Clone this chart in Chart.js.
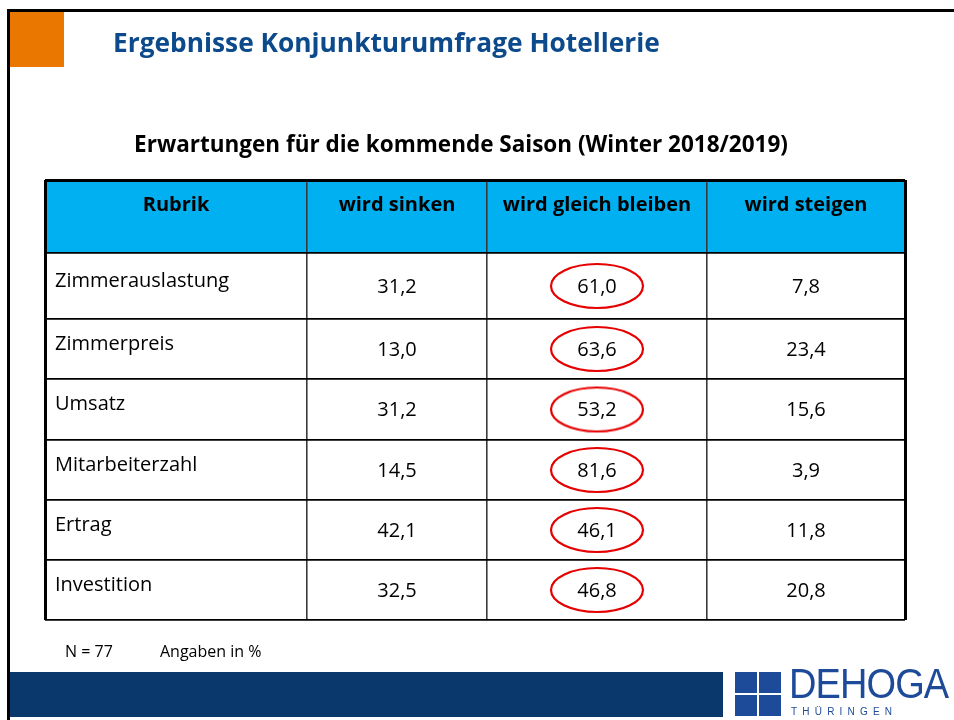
<!DOCTYPE html>
<html>
<head>
<meta charset="utf-8">
<title>Ergebnisse Konjunkturumfrage Hotellerie</title>
<script src="https://cdn.jsdelivr.net/npm/chart.js@4.4.1/dist/chart.umd.min.js"></script>
<style>
body { margin: 0; background: #fff; }
#folie { position: relative; width: 954px; height: 720px; overflow: hidden; font-family: "Open Sans", sans-serif; }
#folie canvas { position: absolute; left: 0; top: 0; }
.abs { position: absolute; white-space: nowrap; }
#rahmenOben { left: 8px; top: 9px; width: 946px; height: 3px; background: #000; }
#rahmenLinks { left: 7px; top: 9px; width: 3px; height: 711px; background: #000; }
#orange { left: 10px; top: 12px; width: 54px; height: 55px; background: #e97700; }
#titel { left: 113px; top: 24px; font-size: 26.3px; font-weight: 700; color: #0c4a8c; }
#untertitel { left: 0; width: 922px; text-align: center; top: 128px; font-size: 22.5px; font-weight: 700; color: #000; }
#fuss1 { left: 65px; top: 640px; font-size: 16px; }
#fuss2 { left: 160px; top: 640px; font-size: 16px; }
#band { left: 10px; top: 672px; width: 713px; height: 45px; background: #0a386d; }
.icon { position: absolute; width: 22px; height: 21px; background: #1e4a9a; }
#dehoga { left: 789px; top: 660px; font-family: "Liberation Sans", sans-serif; font-size: 42px; color: #1e4a9a; transform: scaleX(0.905); transform-origin: left top; letter-spacing: -1px; }
#thueringen { left: 791px; top: 706px; font-family: "Liberation Sans", sans-serif; font-size: 10px; color: #1e4a9a; letter-spacing: 5.2px; }
</style>
</head>
<body>
<div id="folie">
  <canvas id="tabelle" width="954" height="720"></canvas>
  <div class="abs" id="rahmenOben"></div>
  <div class="abs" id="rahmenLinks"></div>
  <div class="abs" id="orange"></div>
  <div class="abs" id="titel">Ergebnisse Konjunkturumfrage Hotellerie</div>
  <div class="abs" id="untertitel">Erwartungen für die kommende Saison (Winter 2018/2019)</div>
  <div class="abs" id="fuss1">N = 77</div>
  <div class="abs" id="fuss2">Angaben in %</div>
  <div class="abs" id="band"></div>
  <div class="icon" style="left:735px;top:672px"></div>
  <div class="icon" style="left:759px;top:672px"></div>
  <div class="icon" style="left:735px;top:695px"></div>
  <div class="icon" style="left:759px;top:695px"></div>
  <div class="abs" id="dehoga">DEHOGA</div>
  <div class="abs" id="thueringen">THÜRINGEN</div>
</div>
<script>
const spalten = ["Rubrik", "wird sinken", "wird gleich bleiben", "wird steigen"];
const rubriken = ["Zimmerauslastung", "Zimmerpreis", "Umsatz", "Mitarbeiterzahl", "Ertrag", "Investition"];
const wirdSinken = [31.2, 13.0, 31.2, 14.5, 42.1, 32.5];
const wirdGleich = [61.0, 63.6, 53.2, 81.6, 46.1, 46.8];
const wirdSteigen = [7.8, 23.4, 15.6, 3.9, 11.8, 20.8];

// tabellen-layout: spalten- und zeilenraender
const spaltenRaender = [0, 262, 442, 662, 860];
const zeilenRaender = [0, 73, 139, 199, 260, 320, 380, 440];

function mitte(r, i) { return (r[i] + r[i + 1]) / 2; }
function zahl(v) { return v.toFixed(1).replace(".", ","); }

function punkte(werte, spalte) {
    return werte.map((v, i) => ({ x: mitte(spaltenRaender, spalte), y: mitte(zeilenRaender, i + 1), wert: v }));
}

// roter kreis um "wird gleich bleiben"
const oval = document.createElement("canvas");
oval.width = 98;
oval.height = 50;
const octx = oval.getContext("2d");
octx.strokeStyle = "#e60000";
octx.lineWidth = 2.2;
octx.beginPath();
octx.ellipse(49, 25, 46, 22, 0, 0, Math.PI * 2);
octx.stroke();

const tabellePlugin = {
    id: "tabelle",
    beforeDraw(chart) {
        const { ctx, scales: { x, y } } = chart;
        ctx.save();
        ctx.fillStyle = "#00b0f0";
        const y0 = y.getPixelForValue(zeilenRaender[0]);
        const y1 = y.getPixelForValue(zeilenRaender[1]);
        ctx.fillRect(x.left, y0, x.right - x.left, y1 - y0);
        ctx.restore();
    },
    afterDatasetsDraw(chart) {
        const { ctx, scales: { x, y } } = chart;
        ctx.save();
        ctx.fillStyle = "#000";
        ctx.textBaseline = "middle";
        ctx.textAlign = "center";
        ctx.font = "bold 20px 'Open Sans'";
        const kopfY = y.getPixelForValue(zeilenRaender[0]) + 25;
        spalten.forEach((s, i) => {
            ctx.fillText(s, x.getPixelForValue(mitte(spaltenRaender, i)), kopfY);
        });
        ctx.textAlign = "left";
        ctx.font = "20px 'Open Sans'";
        rubriken.forEach((r, i) => {
            ctx.fillText(r, x.getPixelForValue(spaltenRaender[0]) + 10, y.getPixelForValue(mitte(zeilenRaender, i + 1)) - 5);
        });
        ctx.textAlign = "center";
        chart.data.datasets.forEach((ds, d) => {
            chart.getDatasetMeta(d).data.forEach((p, i) => {
                ctx.fillText(zahl(ds.data[i].wert), p.x, p.y + 1);
            });
        });
        ctx.restore();
    }
};

function linie(ctx, rand) {
    return ctx.index === 0 || ctx.index === rand.length - 1 ? 3 : 1.6;
}

new Chart(document.getElementById("tabelle"), {
    type: "scatter",
    data: {
        datasets: [
            { label: spalten[1], data: punkte(wirdSinken, 1), pointRadius: 0 },
            { label: spalten[2], data: punkte(wirdGleich, 2), pointStyle: oval },
            { label: spalten[3], data: punkte(wirdSteigen, 3), pointRadius: 0 }
        ]
    },
    options: {
        responsive: false,
        animation: false,
        events: [],
        layout: { padding: { left: 45, top: 180, right: 49, bottom: 100 } },
        plugins: { legend: { display: false }, tooltip: { enabled: false } },
        scales: {
            x: {
                type: "linear", min: 0, max: 860,
                afterBuildTicks: s => { s.ticks = spaltenRaender.map(v => ({ value: v })); },
                ticks: { display: false },
                border: { display: false },
                grid: {
                    drawTicks: false,
                    lineWidth: c => linie(c, spaltenRaender),
                    color: c => (c.index === 0 || c.index === spaltenRaender.length - 1) ? "#000" : "#3a3a3a"
                }
            },
            y: {
                type: "linear", min: 0, max: 440, reverse: true,
                afterBuildTicks: s => { s.ticks = zeilenRaender.map(v => ({ value: v })); },
                ticks: { display: false },
                border: { display: false },
                grid: {
                    drawTicks: false,
                    lineWidth: c => c.index === 0 ? 3 : 1.8,
                    color: "#000"
                }
            }
        }
    },
    plugins: [tabellePlugin]
});
</script>
</body>
</html>
